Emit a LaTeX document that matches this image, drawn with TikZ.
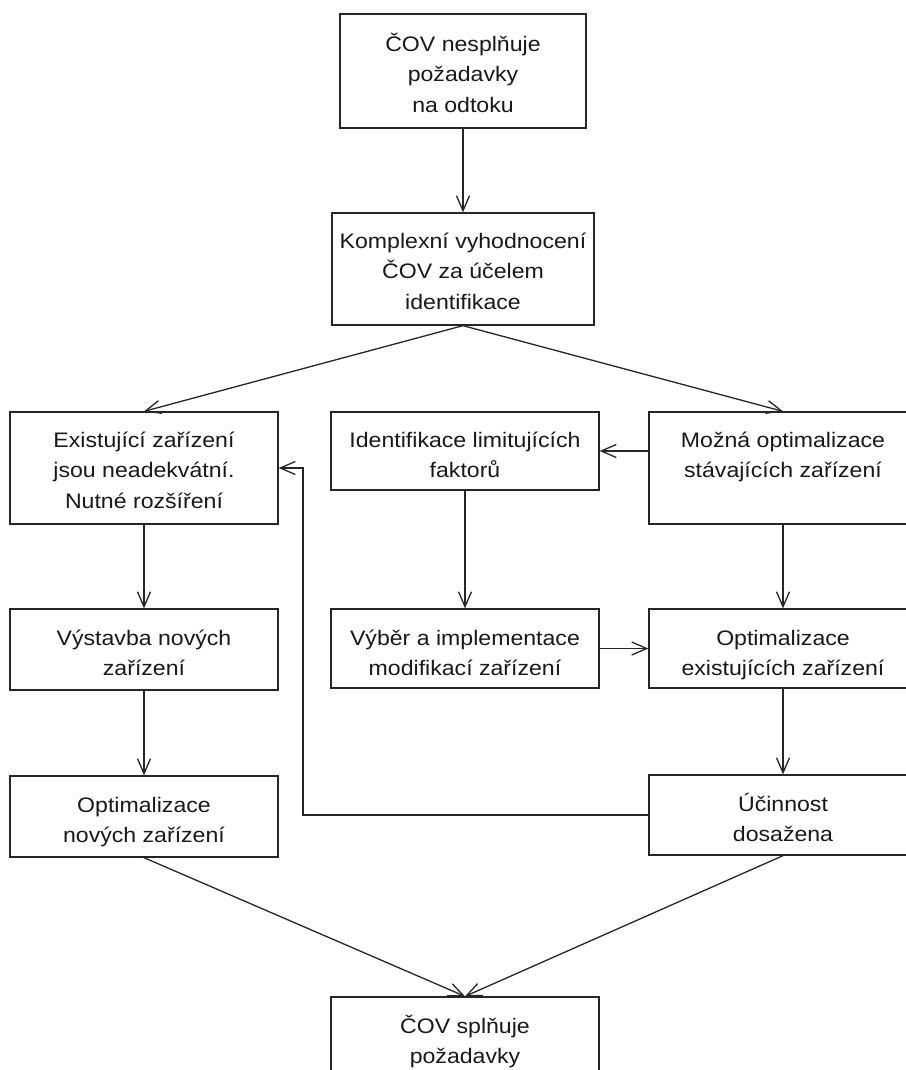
\documentclass[tikz,border=0pt]{standalone}
\usepackage{fontspec}
\setmainfont{Liberation Sans}
\usepackage{graphicx}
\usetikzlibrary{arrows.meta}
\newcommand{\bt}[1]{\scalebox{1.1}[1]{\begin{tabular}{@{}c@{}}#1\end{tabular}}}
\begin{document}
\begin{tikzpicture}[x=1pt,y=-1pt,
  line width=1.3pt, draw=black!85,
  box/.style={draw=black!85, rectangle, inner sep=0pt, minimum width=268pt},
  txt/.style={anchor=north, inner sep=0pt, text=black!90, font=\fontsize{21}{30.5}\selectfont},
  arr/.style={-{Straight Barb[length=15pt,width=13pt,line width=1.3pt]}}]
\useasboundingbox (0,0) rectangle (905,1070);
\fill[white] (0,0) rectangle (905,1070);
% boxes
\node[box, minimum width=246pt, minimum height=114pt] (top) at (463,71) {};
\node[box, minimum width=262pt, minimum height=112pt] (komp) at (463,269) {};
\node[box, minimum height=112pt] (exist) at (144,468) {};
\node[box, minimum height=78pt] (ident) at (465,451) {};
\node[box, minimum height=112pt] (mozna) at (783,468) {};
\node[box, minimum height=81pt] (vyst) at (144,649.5) {};
\node[box, minimum height=79pt] (vyber) at (465,648.5) {};
\node[box, minimum height=79pt] (optex) at (783,648.5) {};
\node[box, minimum height=81pt] (optnov) at (144,816.5) {};
\node[box, minimum height=80pt] (ucin) at (783,815) {};
\node[box, minimum height=110pt] (final) at (465,1052) {};
% texts
\node[txt] (ttop) at ([yshift=-16pt]top.north) {\bt{ČOV nesplňuje\\požadavky\\na odtoku}};
\node[txt] (tkomp) at ([yshift=-13.65pt]komp.north) {\bt{Komplexní vyhodnocení\\ČOV za účelem\\identifikace}};
\node[txt] (texist) at ([yshift=-13.65pt]exist.north) {\bt{Existující zařízení\\jsou neadekvátní.\\Nutné rozšíření}};
\node[txt] (tident) at ([yshift=-13.65pt]ident.north) {\bt{Identifikace limitujících\\faktorů}};
\node[txt] (tmozna) at ([yshift=-13.65pt]mozna.north) {\bt{Možná optimalizace\\stávajících zařízení}};
\node[txt] (tvyst) at ([yshift=-14.65pt]vyst.north) {\bt{Výstavba nových\\zařízení}};
\node[txt] (tvyber) at ([yshift=-14.65pt]vyber.north) {\bt{Výběr a implementace\\modifikací zařízení}};
\node[txt] (toptex) at ([yshift=-14.65pt]optex.north) {\bt{Optimalizace\\existujících zařízení}};
\node[txt] (toptnov) at ([yshift=-14.65pt]optnov.north) {\bt{Optimalizace\\nových zařízení}};
\node[txt] (tucin) at ([yshift=-14.65pt]ucin.north) {\bt{Účinnost\\dosažena}};
\node[txt] (tfinal) at ([yshift=-14.65pt]final.north) {\bt{ČOV splňuje\\požadavky}};
% connectors
\coordinate (lp) at (303,0);
\draw[arr] (top.south) -- (komp.north);
\draw[arr] (komp.south) -- (exist.north);
\draw[arr] (komp.south) -- (mozna.north);
\draw[arr] (exist.south) -- (vyst.north);
\draw[arr] (vyst.south) -- (optnov.north);
\draw[arr] (mozna.west |- ident.east) -- (ident.east);
\draw[arr] (ident.south) -- (vyber.north);
\draw[arr] (vyber.east) -- (vyber.east -| optex.west);
\draw[arr] (mozna.south) -- (optex.north);
\draw[arr] (optex.south) -- (ucin.north);
\draw[arr] (ucin.west) -- (lp |- ucin.west) -- (lp |- exist.east) -- (exist.east);
\draw[arr] (optnov.south) -- (final.north);
\draw[arr] (ucin.south) -- (final.north);
\end{tikzpicture}
\end{document}
